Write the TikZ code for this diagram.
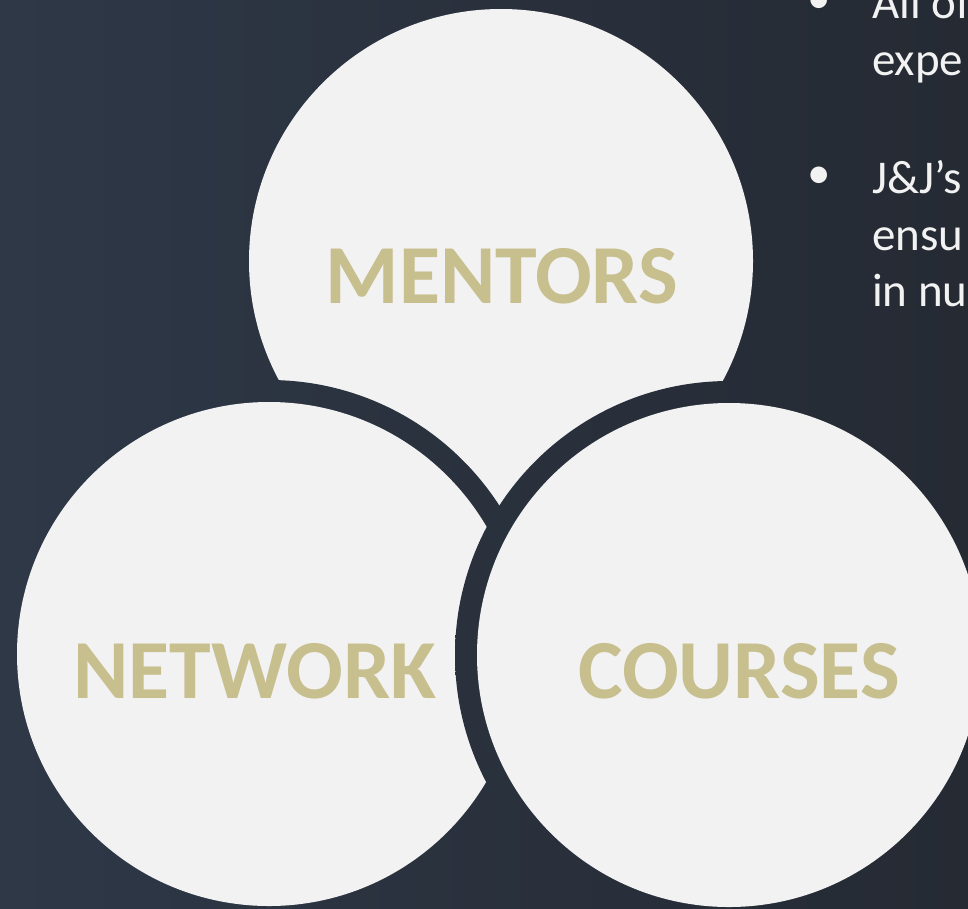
\documentclass[tikz,border=0pt]{standalone}
\usepackage{fontspec}
\setmainfont{Carlito}
\definecolor{bgleft}{HTML}{2E3847}
\definecolor{bgright}{HTML}{252A33}
\definecolor{disc}{HTML}{F2F2F2}
\definecolor{gold}{HTML}{C8BF8F}
\tikzset{
  backdrop/.style={left color=bgleft, right color=bgright},
  title/.style={anchor=base, inner sep=0pt, text=gold,
    font=\fontsize{84}{84}\selectfont\bfseries},
  bullettext/.style={anchor=base west, inner sep=0pt, text=disc,
    font=\fontsize{47}{56}\selectfont},
}
\begin{document}
\begin{tikzpicture}[x=1pt,y=-1pt]
  \clip (0,0) rectangle (968,908);
  \shade[backdrop] (0,0) rectangle (968,908);
  % three discs, back to front, each with a ring cut out of the backdrop
  \foreach \name/\cx/\cy in {mentors/501/261, network/269/654, courses/729/655}
  {
    \coordinate (\name) at (\cx,\cy);
    \begin{scope}
      \clip (\name) circle[radius=274pt];
      \shade[backdrop] (0,0) rectangle (968,908);
    \end{scope}
    \fill[disc] (\name) circle[radius=252pt];
  }
  \node[title] (mentorsText) at (502,303) {MENTORS};
  \node[title] (networkText) at (255,698) {NETWORK};
  \node[title] (coursesText) at (739,698) {COURSES};
  % bullet text, running off the right edge
  \node[bullettext] (dot1) at (807,13) {•};
  \node[bullettext] (all1) at (872,18) {All of};
  \node[bullettext] (all2) at (872,75) {expe};
  \node[bullettext] (dot2) at (807,188) {•};
  \node[bullettext] (jj1) at (872,193) {J\&J’s};
  \node[bullettext] (jj2) at (872,250) {ensu};
  \node[bullettext] (jj3) at (872,306) {in nu};
\end{tikzpicture}
\end{document}
